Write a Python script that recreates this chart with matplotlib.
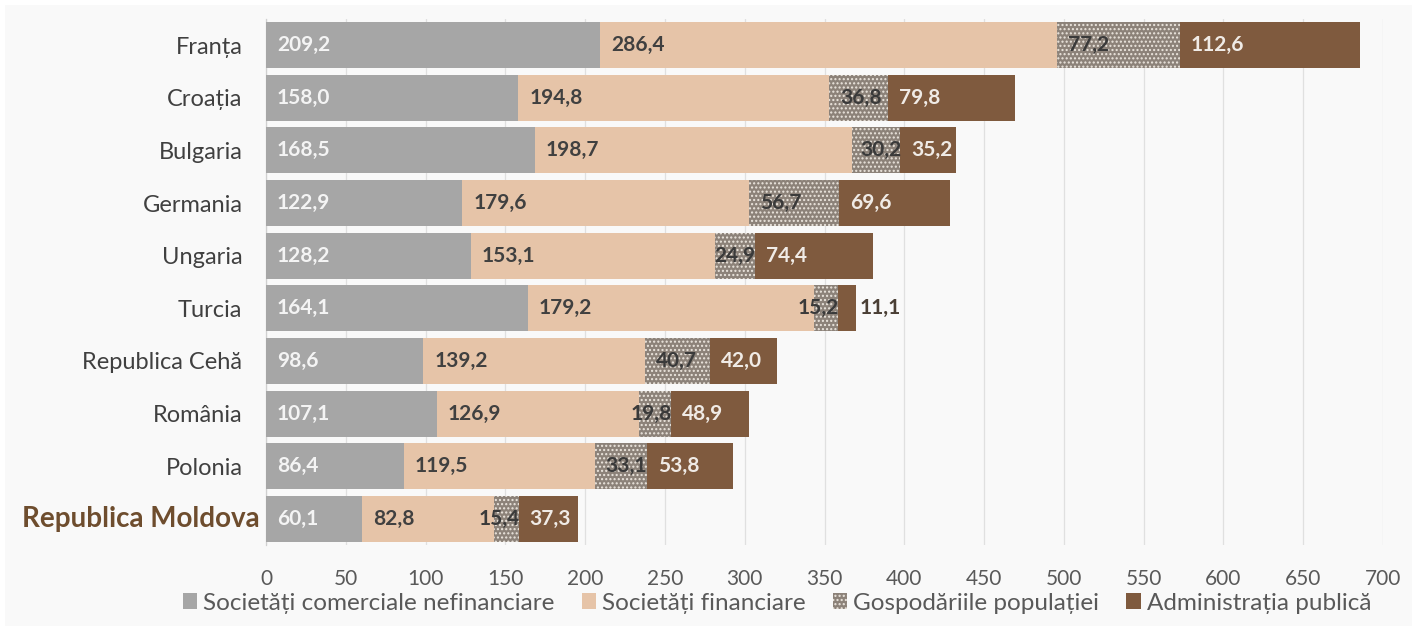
import matplotlib
matplotlib.use("Agg")
import matplotlib.pyplot as plt
from matplotlib.patches import Patch
import numpy as np

plt.rcParams['font.family'] = ['Lato', 'DejaVu Sans']
plt.rcParams['hatch.linewidth'] = 1.0

categories = ["Franța", "Croația", "Bulgaria", "Germania", "Ungaria", "Turcia",
              "Republica Cehă", "România", "Polonia", "Republica Moldova"]
nefinanciare = [209.2, 158.0, 168.5, 122.9, 128.2, 164.1, 98.6, 107.1, 86.4, 60.1]
financiare = [286.4, 194.8, 198.7, 179.6, 153.1, 179.2, 139.2, 126.9, 119.5, 82.8]
gospodarii = [77.2, 36.8, 30.2, 56.7, 24.9, 15.2, 40.7, 19.8, 33.1, 15.4]
administratie = [112.6, 79.8, 35.2, 69.6, 74.4, 11.1, 42.0, 48.9, 53.8, 37.3]
series_names = ["Societăți comerciale nefinanciare", "Societăți financiare",
                "Gospodăriile populației", "Administrația publică"]
xticks = list(range(0, 701, 50))
highlight = "Republica Moldova"

W, H = 1417, 631
fig = plt.figure(figsize=(W / 100, H / 100), dpi=100, facecolor='white')
fig.patches.append(plt.Rectangle((5 / W, 5 / H), 1 - 10 / W, 1 - 10 / H,
                                 transform=fig.transFigure, facecolor='#f9f9f9',
                                 edgecolor='none', zorder=-10))
ax = fig.add_axes([266 / W, 1 - 545.3 / H, (1383 - 266) / W, (545.3 - 18.7) / H])
ax.set_facecolor('none')

colors = ['#a6a6a6', '#e6c4a8', '#8c8279', '#7f5a3e']
label_colors = ['#f4f4f4', '#404040', '#3a3a3a', '#f0ebe6']
data = [nefinanciare, financiare, gospodarii, administratie]

y = np.arange(len(categories))
left = np.zeros(len(categories))
px_per_unit = (1383 - 266) / 700.0
pad_units = 11 / px_per_unit
vfs = 15

for i, (vals, c) in enumerate(zip(data, colors)):
    vals = np.array(vals)
    if i == 2:
        ax.barh(y, vals, left=left, height=0.87, color=c, edgecolor='#ece6de',
                linewidth=0, hatch='....', zorder=3)
    else:
        ax.barh(y, vals, left=left, height=0.87, color=c, linewidth=0, zorder=3)
    for j, v in enumerate(vals):
        txt = f"{v:.1f}".replace('.', ',')
        seg_w_px = v * px_per_unit
        text_w_px = 11.5 * len(txt.replace(',', '')) + 5
        if i == 3 and seg_w_px < 30:
            ax.text(left[j] + v + 4 / px_per_unit, y[j], txt, ha='left', va='center',
                    fontsize=vfs, fontweight='bold', color='#4a3f35', zorder=5)
        elif seg_w_px >= text_w_px + 11:
            ax.text(left[j] + pad_units, y[j], txt, ha='left', va='center',
                    fontsize=vfs, fontweight='bold', color=label_colors[i], zorder=5)
        else:
            ax.text(left[j] + v + 1 / px_per_unit, y[j], txt, ha='right', va='center',
                    fontsize=vfs, fontweight='bold', color=label_colors[i], zorder=5)
    left += vals

ax.set_xlim(0, 700)
ax.set_ylim(len(categories) - 0.5, -0.5)
ax.set_xticks(xticks)
ax.set_xticklabels([str(t) for t in xticks])
ax.set_yticks(y)
ax.set_yticklabels([c if c != highlight else "" for c in categories])
ax.tick_params(axis='both', length=0, colors='#595959')
ax.tick_params(axis='x', pad=17, labelsize=15)
ax.tick_params(axis='y', pad=17, labelsize=17, labelcolor='#404040')
for j, c in enumerate(categories):
    if c == highlight:
        ax.annotate(c, xy=(0, y[j]), xycoords=('axes fraction', 'data'),
                    xytext=(-6, 0), textcoords='offset pixels', ha='right', va='center',
                    fontsize=20, fontweight='bold', color='#6e4d2e')

ax.grid(axis='x', color='#e0e0e0', linewidth=0.9, zorder=0)
ax.set_axisbelow(True)
for s in ['top', 'right', 'bottom']:
    ax.spines[s].set_visible(False)
ax.spines['left'].set_color('#d0d0d0')
ax.spines['left'].set_linewidth(0.9)

handles = [Patch(facecolor=colors[0], linewidth=0),
           Patch(facecolor=colors[1], linewidth=0),
           Patch(facecolor=colors[2], edgecolor='#ece6de', linewidth=0, hatch='....'),
           Patch(facecolor=colors[3], linewidth=0)]
leg = fig.legend(handles, series_names, loc='center', bbox_to_anchor=(777 / W, 1 - 603 / H),
                 ncol=4, frameon=False, fontsize=17.5, handlelength=0.6, handleheight=0.6,
                 handletextpad=0.25, columnspacing=1.1, labelcolor='#595959')

fig.savefig('out.png', dpi=100, facecolor=fig.get_facecolor())
